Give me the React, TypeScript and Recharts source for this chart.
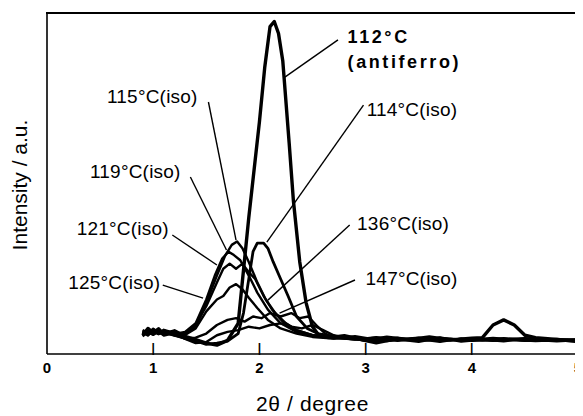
import React from 'react';
import {
  LineChart, Line, XAxis, YAxis, ReferenceLine, ReferenceDot, Label,
} from 'recharts';

// 2theta (degree) vs intensity (a.u.)
const xTicks = [0, 1, 2, 3, 4, 5];

const antiferro112: [number, number][] = [
  [0.9, 5.5], [0.95, 7.5], [1.0, 6.2], [1.05, 7.4], [1.1, 5.8], [1.2, 6.8], [1.3, 5.2], [1.4, 4.2],
  [1.5, 3.2], [1.6, 2.6], [1.7, 4.0], [1.8, 9], [1.9, 40], [2.0, 68], [2.05, 84], [2.1, 96],
  [2.14, 97.5], [2.18, 94], [2.22, 86], [2.28, 62], [2.32, 45], [2.38, 27], [2.44, 15], [2.5, 8],
  [2.56, 5.5], [2.65, 4.8], [2.8, 5.4], [3.0, 4.0], [3.2, 4.9], [3.4, 4.2], [3.6, 5.0], [3.8, 4.1],
  [4.0, 4.6], [4.1, 4.8], [4.2, 8.5], [4.3, 10], [4.4, 8.5], [4.5, 5.5], [4.6, 4.8], [4.8, 4.3],
  [5.0, 3.6],
];
const iso114: [number, number][] = [
  [0.9, 6.5], [0.95, 5.5], [1.0, 7.2], [1.05, 6.0], [1.1, 6.6], [1.2, 5.6], [1.3, 4.6], [1.4, 3.8],
  [1.5, 2.8], [1.6, 3.2], [1.7, 3.8], [1.8, 6], [1.85, 12], [1.9, 22], [1.94, 30], [1.98, 32.5],
  [2.04, 32.5], [2.08, 31], [2.13, 27], [2.2, 22], [2.27, 17], [2.35, 11], [2.45, 7.5], [2.55, 6],
  [2.7, 5.2], [2.9, 4.5], [3.1, 3.2], [3.3, 4.4], [3.5, 3.6], [3.7, 4.8], [3.9, 3.7], [4.1, 4.3],
  [4.3, 3.8], [4.5, 4.5], [4.7, 3.9], [5.0, 4.2],
];
const iso115: [number, number][] = [
  [0.9, 7.0], [0.95, 6.2], [1.0, 6.8], [1.05, 5.9], [1.1, 7.1], [1.2, 6.2], [1.3, 6.0], [1.4, 8],
  [1.5, 15], [1.6, 23], [1.68, 29], [1.74, 32], [1.79, 33], [1.84, 31], [1.9, 27], [1.98, 21],
  [2.06, 16], [2.15, 12], [2.25, 9], [2.35, 7], [2.5, 5.5], [2.7, 4.8], [2.9, 4.3], [3.1, 4.8],
  [3.3, 3.9], [3.5, 4.4], [3.7, 3.6], [3.9, 4.5], [4.1, 4.0], [4.3, 4.6], [4.6, 4.1], [5.0, 3.8],
];
const iso119: [number, number][] = [
  [0.9, 6.0], [0.95, 7.2], [1.0, 5.8], [1.05, 6.9], [1.1, 6.1], [1.2, 5.9], [1.3, 6.5], [1.4, 9],
  [1.5, 16], [1.58, 23], [1.65, 28], [1.71, 30], [1.76, 29], [1.82, 27.5], [1.9, 23], [1.98, 18],
  [2.08, 13], [2.2, 9], [2.35, 6.5], [2.5, 5.5], [2.7, 4.5], [2.9, 5.2], [3.1, 4.2], [3.3, 4.8],
  [3.5, 3.9], [3.7, 4.4], [3.9, 4.0], [4.2, 4.7], [4.5, 4.0], [4.8, 4.4], [5.0, 4.0],
];
const iso121: [number, number][] = [
  [0.9, 6.8], [0.95, 6.0], [1.0, 7.4], [1.05, 6.3], [1.1, 6.9], [1.2, 6.0], [1.3, 6.2], [1.4, 8.5],
  [1.5, 14], [1.6, 21], [1.66, 25], [1.72, 26.5], [1.78, 25], [1.84, 26.5], [1.9, 24], [1.96, 22],
  [2.04, 17], [2.12, 13], [2.22, 9.5], [2.35, 7], [2.5, 5.5], [2.7, 4.8], [2.9, 4.2], [3.1, 4.9],
  [3.3, 4.1], [3.5, 4.6], [3.7, 3.8], [3.9, 4.4], [4.2, 3.9], [4.5, 4.3], [4.8, 3.7], [5.0, 4.1],
];
const iso125: [number, number][] = [
  [0.9, 5.8], [0.95, 6.8], [1.0, 6.0], [1.05, 7.0], [1.1, 6.4], [1.2, 5.5], [1.3, 5.6], [1.4, 7.5],
  [1.5, 12.5], [1.6, 16], [1.66, 17], [1.72, 19.5], [1.78, 20.5], [1.84, 19], [1.9, 16.5],
  [1.98, 13.5], [2.08, 10], [2.2, 7.5], [2.35, 6], [2.5, 5], [2.7, 4.5], [2.9, 4.9], [3.1, 4.0],
  [3.3, 4.5], [3.5, 4.2], [3.7, 4.7], [3.9, 4.1], [4.2, 4.4], [4.5, 3.9], [4.8, 4.2], [5.0, 3.9],
];
const iso136: [number, number][] = [
  [0.9, 6.4], [0.95, 5.6], [1.0, 6.6], [1.05, 5.8], [1.1, 6.3], [1.2, 5.4], [1.3, 4.6], [1.4, 4.8],
  [1.5, 6], [1.6, 8.5], [1.7, 10], [1.78, 10.5], [1.86, 9.5], [1.94, 11], [2.02, 10.5], [2.1, 12],
  [2.2, 11], [2.3, 12], [2.38, 10.5], [2.46, 11], [2.55, 8], [2.62, 6], [2.7, 4.8], [2.9, 4.3],
  [3.1, 3.7], [3.3, 4.3], [3.5, 4.8], [3.7, 4.0], [3.9, 4.4], [4.2, 4.1], [4.5, 4.6], [4.8, 4.0],
  [5.0, 4.3],
];
const iso147: [number, number][] = [
  [0.9, 5.2], [0.95, 6.4], [1.0, 5.6], [1.05, 6.6], [1.1, 5.4], [1.2, 6.1], [1.3, 4.4], [1.4, 3.2],
  [1.5, 3.5], [1.6, 5.5], [1.7, 6.5], [1.8, 7], [1.9, 8], [2.0, 7.5], [2.1, 8.5], [2.2, 9],
  [2.3, 8], [2.4, 7.5], [2.5, 8.5], [2.6, 7], [2.7, 5.5], [2.8, 4.8], [3.0, 4.5], [3.2, 3.8],
  [3.4, 4.4], [3.6, 4.0], [3.8, 4.5], [4.0, 3.9], [4.3, 4.3], [4.6, 3.8], [4.9, 4.2], [5.0, 4.0],
];

const series = [
  { name: '147°C(iso)', pts: iso147, w: 2.4 },
  { name: '136°C(iso)', pts: iso136, w: 2.4 },
  { name: '125°C(iso)', pts: iso125, w: 2.4 },
  { name: '121°C(iso)', pts: iso121, w: 2.4 },
  { name: '119°C(iso)', pts: iso119, w: 2.4 },
  { name: '115°C(iso)', pts: iso115, w: 2.4 },
  { name: '114°C(iso)', pts: iso114, w: 2.8 },
  { name: '112°C (antiferro)', pts: antiferro112, w: 3.4 },
];

const FONT = '"Liberation Sans", Arial, Helvetica, sans-serif';

// bold tick label + short inward tick mark
const BottomTick = (props: any) => {
  const { x, y, payload } = props;
  const inner = payload.value > 0 && payload.value < 5;
  return (
    <g>
      <text x={x} y={y + 19} textAnchor="middle" fontFamily={FONT} fontWeight="bold" fontSize={15} fill="#000">
        {payload.value}
      </text>
      {inner && (
        <text x={x} y={y - 2.5} textAnchor="middle" fontFamily={FONT} fontWeight="bold" fontSize={12} fill="#000">
          |
        </text>
      )}
    </g>
  );
};

const note = (text: string, bold = false) => (p: any) => (
  <text
    x={p.cx}
    y={p.cy}
    dominantBaseline="central"
    fontFamily={FONT}
    fontSize={bold ? 18 : 19}
    fontWeight={bold ? 'bold' : 'normal'}
    letterSpacing={bold ? 2.6 : 0.2}
    fill="#000"
  >
    {text}
  </text>
);

export default function App() {
  return (
    <div style={{ position: 'relative', width: 575, height: 408 }}>
      <LineChart width={575} height={408} margin={{ top: 5, right: 5, bottom: 2, left: 0 }}>
        <XAxis
          type="number"
          dataKey="x"
          domain={[0, 5]}
          ticks={xTicks}
          allowDataOverflow
          height={60}
          tickSize={0}
          tickMargin={0}
          tickLine={false}
          tick={<BottomTick />}
          axisLine={{ stroke: '#000', strokeWidth: 1.6 }}
        >
          <Label
            value="2θ / degree"
            position="insideBottom"
            offset={3}
            style={{ fontFamily: FONT, fontSize: 21, letterSpacing: 0.6, fill: '#000' }}
          />
        </XAxis>
        <YAxis
          type="number"
          dataKey="y"
          domain={[0, 100]}
          allowDataOverflow
          width={39}
          tick={false}
          tickLine={false}
          axisLine={{ stroke: '#000', strokeWidth: 1.6 }}
        >
          <Label
            content={(p: any) => {
              const vb = p.viewBox;
              const cx = vb.x + 11.5;
              const cy = vb.y + vb.height / 2 + 1.5;
              return (
                <text
                  x={cx}
                  y={cy}
                  transform={`rotate(-90 ${cx} ${cy})`}
                  textAnchor="middle"
                  dominantBaseline="central"
                  fontFamily={FONT}
                  fontSize={21}
                  fill="#000"
                >
                  Intensity / a.u.
                </text>
              );
            }}
          />
        </YAxis>

        {series.map((s) => (
          <Line
            key={s.name}
            name={s.name}
            data={s.pts.map(([x, y]) => ({ x, y }))}
            dataKey="y"
            type="linear"
            stroke="#000"
            strokeWidth={s.w}
            strokeLinejoin="round"
            dot={false}
            activeDot={false}
            isAnimationActive={false}
          />
        ))}

        {/* leader lines */}
        <ReferenceLine segment={[{ x: 2.74, y: 92.1 }, { x: 2.24, y: 81.2 }]} stroke="#000" strokeWidth={1.4} />
        <ReferenceLine segment={[{ x: 2.98, y: 73.0 }, { x: 2.07, y: 32.8 }]} stroke="#000" strokeWidth={1.4} />
        <ReferenceLine segment={[{ x: 1.52, y: 73.9 }, { x: 1.78, y: 33.4 }]} stroke="#000" strokeWidth={1.4} />
        <ReferenceLine segment={[{ x: 1.35, y: 51.9 }, { x: 1.69, y: 30.5 }]} stroke="#000" strokeWidth={1.4} />
        <ReferenceLine segment={[{ x: 1.18, y: 34.9 }, { x: 1.6, y: 26.1 }]} stroke="#000" strokeWidth={1.4} />
        <ReferenceLine segment={[{ x: 1.09, y: 20.2 }, { x: 1.47, y: 16.4 }]} stroke="#000" strokeWidth={1.4} />
        <ReferenceLine segment={[{ x: 2.85, y: 37.8 }, { x: 2.08, y: 15.8 }]} stroke="#000" strokeWidth={1.4} />
        <ReferenceLine segment={[{ x: 2.9, y: 21.7 }, { x: 2.19, y: 12.0 }]} stroke="#000" strokeWidth={1.4} />

        {/* annotations */}
        <ReferenceDot x={2.83} y={93.0} r={0} shape={note('112°C', true)} />
        <ReferenceDot x={2.83} y={85.6} r={0} shape={note('(antiferro)', true)} />
        <ReferenceDot x={3.01} y={71.6} r={0} shape={note('114°C(iso)')} />
        <ReferenceDot x={0.565} y={75.4} r={0} shape={note('115°C(iso)')} />
        <ReferenceDot x={0.405} y={53.4} r={0} shape={note('119°C(iso)')} />
        <ReferenceDot x={0.28} y={36.7} r={0} shape={note('121°C(iso)')} />
        <ReferenceDot x={0.2} y={21.1} r={0} shape={note('125°C(iso)')} />
        <ReferenceDot x={2.92} y={38.4} r={0} shape={note('136°C(iso)')} />
        <ReferenceDot x={3.0} y={22.0} r={0} shape={note('147°C(iso)')} />
      </LineChart>
      {/* top and right edges of the plot frame */}
      <div
        style={{
          position: 'absolute',
          left: 38,
          top: 4,
          width: 533,
          height: 343,
          boxSizing: 'border-box',
          borderTop: '2px solid #000',
          borderRight: '2px solid #000',
          pointerEvents: 'none',
        }}
      />
    </div>
  );
}
